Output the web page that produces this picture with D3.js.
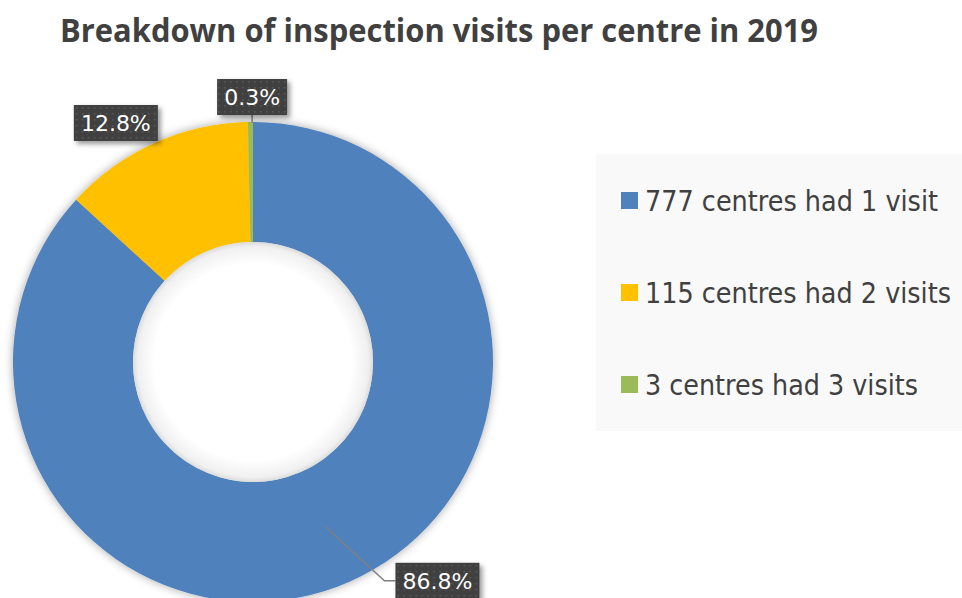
<!DOCTYPE html>
<html>
<head>
<meta charset="utf-8">
<script src="https://cdn.jsdelivr.net/npm/d3@7"></script>
<style>
  html, body { margin: 0; padding: 0; background: #fff; }
  svg { display: block; }
</style>
</head>
<body>
<div id="chart"></div>
<script>
const categories = ['777 centres had 1 visit', '115 centres had 2 visits', '3 centres had 3 visits']
const counts = [777, 115, 3]
const colors = ['#4F81BD', '#FFC000', '#9BBB59']
const title = 'Breakdown of inspection visits per centre in 2019'

const width = 962
const height = 598
const cx = 253
const cy = 362
const outerR = 240
const innerR = 120

const svg = d3.select('#chart').append('svg')
    .attr('width', width)
    .attr('height', height)

const defs = svg.append('defs')

const shadow = defs.append('filter')
    .attr('id', 'shadow')
    .attr('x', '-20%').attr('y', '-20%')
    .attr('width', '140%').attr('height', '140%')
shadow.append('feDropShadow')
    .attr('dx', 0).attr('dy', 0)
    .attr('stdDeviation', 5)
    .attr('flood-color', '#000')
    .attr('flood-opacity', 0.35)

const boxShadow = defs.append('filter')
    .attr('id', 'boxShadow')
    .attr('x', '-20%').attr('y', '-30%')
    .attr('width', '150%').attr('height', '170%')
boxShadow.append('feDropShadow')
    .attr('dx', 3).attr('dy', 3)
    .attr('stdDeviation', 2.5)
    .attr('flood-color', '#000')
    .attr('flood-opacity', 0.4)

const dots = defs.append('pattern')
    .attr('id', 'dots')
    .attr('width', 6).attr('height', 6)
    .attr('patternUnits', 'userSpaceOnUse')
dots.append('rect').attr('width', 6).attr('height', 6).attr('fill', '#3f3f3f')
dots.append('rect').attr('x', 2).attr('y', 2).attr('width', 1.5).attr('height', 1.5).attr('fill', '#5c5c5c')

const holeGrad = defs.append('radialGradient').attr('id', 'hole')
holeGrad.append('stop').attr('offset', '0.82').attr('stop-color', '#fff')
holeGrad.append('stop').attr('offset', '0.96').attr('stop-color', '#f0f0f0')
holeGrad.append('stop').attr('offset', '1').attr('stop-color', '#dcdcdc')

// title
svg.append('text')
    .text(title)
    .attr('x', 60)
    .attr('y', 42)
    .attr('textLength', 758)
    .attr('lengthAdjust', 'spacingAndGlyphs')
    .style('font-family', '"Open Sans", sans-serif')
    .style('font-weight', 'bold')
    .style('font-size', '32px')
    .style('fill', '#404040')

// donut
const pie = d3.pie().sort(null).value(d => d)
const arcs = pie(counts)
const arc = d3.arc().innerRadius(innerR).outerRadius(outerR)

const plot = svg.append('g').attr('transform', `translate(${cx}, ${cy})`)

plot.append('g')
    .attr('filter', 'url(#shadow)')
    .selectAll('path')
    .data(arcs)
    .enter()
    .append('path')
    .attr('d', arc)
    .attr('fill', (d, i) => colors[i])

plot.append('circle')
    .attr('r', innerR)
    .attr('fill', 'url(#hole)')

// data labels (offsets from slice centroid, as placed in the original)
const labelOffsets = [
    {dx: 112, dy: 54, leader: 'elbow'},
    {dx: -63, dy: -75, leader: 'none'},
    {dx: 1, dy: -85, leader: 'straight'}
]
const fmt = d3.format('.1%')
const total = d3.sum(counts)
const boxH = 36

arcs.forEach((a, i) => {
    const c = arc.centroid(a)
    const off = labelOffsets[i]
    const bx = c[0] + off.dx
    const by = c[1] + off.dy
    const txt = fmt(a.data / total)
    const w = txt.length > 4 ? 84 : 70

    if (off.leader === 'elbow') {
        plot.append('polyline')
            .attr('points', `${c[0]},${c[1]} ${bx - w / 2 - 11},${by} ${bx - w / 2},${by}`)
            .attr('fill', 'none')
            .attr('stroke', '#7f7f7f')
            .attr('stroke-width', 1.5)
    } else if (off.leader === 'straight') {
        const edge = d3.arc().innerRadius(outerR).outerRadius(outerR).centroid(a)
        plot.append('line')
            .attr('x1', bx).attr('y1', by + boxH / 2 - 2)
            .attr('x2', bx).attr('y2', edge[1] + 1)
            .attr('stroke', '#7f7f7f')
            .attr('stroke-width', 1.5)
    }

    const g = plot.append('g').attr('transform', `translate(${bx}, ${by})`)
    g.append('rect')
        .attr('x', -w / 2).attr('y', -boxH / 2)
        .attr('width', w).attr('height', boxH)
        .attr('fill', 'url(#dots)')
        .attr('filter', 'url(#boxShadow)')
    g.append('text')
        .text(txt)
        .attr('text-anchor', 'middle')
        .attr('y', 8)
        .style('font-family', '"DejaVu Sans", Verdana, sans-serif')
        .style('font-size', '22px')
        .style('fill', '#fff')
})

// legend
const legend = svg.append('g').attr('transform', 'translate(596, 154)')
legend.append('rect')
    .attr('width', 370)
    .attr('height', 277)
    .attr('fill', '#f9f9f9')

const legendWidths = [293, 306, 273]
const item = legend.selectAll('.item')
    .data(categories)
    .enter()
    .append('g')
    .attr('class', 'item')
    .attr('transform', (d, i) => `translate(25, ${38 + i * 92})`)

item.append('rect')
    .attr('width', 17)
    .attr('height', 17)
    .attr('fill', (d, i) => colors[i])

item.append('text')
    .text(d => d)
    .attr('x', 24)
    .attr('y', 19)
    .attr('textLength', (d, i) => legendWidths[i])
    .attr('lengthAdjust', 'spacingAndGlyphs')
    .style('font-family', '"DejaVu Sans", Verdana, sans-serif')
    .style('font-size', '29px')
    .style('fill', '#404040')
</script>
</body>
</html>
